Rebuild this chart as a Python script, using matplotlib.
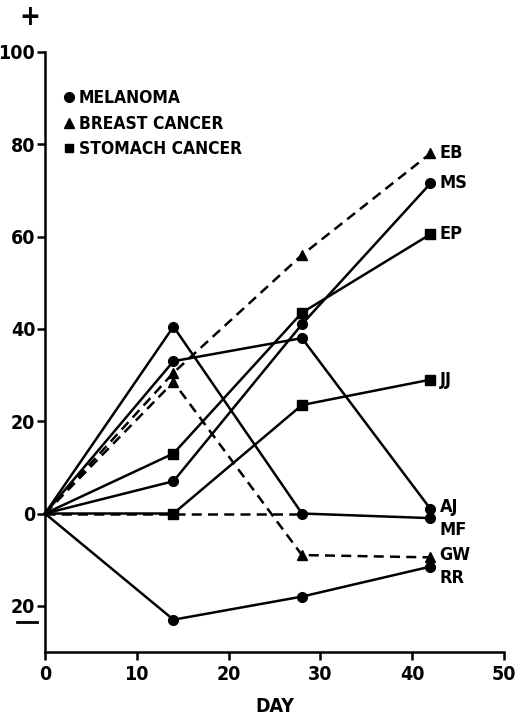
import matplotlib
matplotlib.use("Agg")
import matplotlib.pyplot as plt
from matplotlib.lines import Line2D

plt.rcParams['font.family'] = ['DejaVu Sans']
plt.rcParams['font.weight'] = 'bold'
plt.rcParams['font.stretch'] = 'condensed'

days = [0, 14, 28, 42]

# Melanoma (circles, solid)
MS = [0, 7, 41, 71.5]
AJ = [0, 33, 38, 1]
MF = [0, 40.5, 0, -1]
RR = [0, -23, -18, -11.5]
# Breast cancer (triangles, dashed)
EB = [0, 30.5, 56, 78]
GW = [0, 28.5, -9, -9.5]
extra_breast_days = [0, 14, 28]
extra_breast = [0, 0, 0]
# Stomach cancer (squares, solid)
EP = [0, 13, 43.5, 60.5]
JJ = [0, 0, 23.5, 29]

series = [
    ("MS", MS, 'o', '-'), ("AJ", AJ, 'o', '-'), ("MF", MF, 'o', '-'), ("RR", RR, 'o', '-'),
    ("EB", EB, '^', '--'), ("GW", GW, '^', '--'),
    ("EP", EP, 's', '-'), ("JJ", JJ, 's', '-'),
]
label_y = {"EB": 78, "MS": 71.5, "EP": 60.5, "JJ": 29, "AJ": 1.5, "MF": -3.5, "GW": -9, "RR": -14}

fig = plt.figure(figsize=(5.21, 7.21), dpi=100)
ax = fig.add_axes([0.0864, 0.0957, 0.8806, 0.8323])

dash = (0, (4, 2.5))
lw = 1.8
for name, vals, mk, ls in series:
    ax.plot(days[1:], vals[1:], linestyle='none', marker=mk, color='black',
            markersize=7 if mk != 's' else 6.5, clip_on=False, zorder=3)
    ax.plot(days, vals, color='black', lw=lw,
            linestyle=dash if ls == '--' else '-', clip_on=False, zorder=2)
    ax.text(43.0, label_y[name], name, fontsize=13, fontweight='bold',
            fontstretch='condensed', va='center', ha='left')

ax.plot(extra_breast_days, extra_breast, color='black', lw=lw, linestyle=dash, zorder=1)

ax.set_xlim(0, 50)
ax.set_ylim(-30, 100)
ax.spines['top'].set_visible(False)
ax.spines['right'].set_visible(False)
ax.spines['left'].set_linewidth(1.8)
ax.spines['bottom'].set_linewidth(1.8)

ax.set_xticks([0, 10, 20, 30, 40, 50])
ax.set_xticklabels(['0', '10', '20', '30', '40', '50'])
ax.set_yticks([-20, 0, 20, 40, 60, 80, 100])
ax.set_yticklabels(['20', '0', '20', '40', '60', '80', '100'])
ax.tick_params(axis='both', direction='out', length=6, width=1.8, labelsize=14)
ax.tick_params(axis='y', pad=1)
for t in ax.get_xticklabels() + ax.get_yticklabels():
    t.set_fontweight('bold')
    t.set_fontstretch('condensed')

ax.set_xlabel('DAY', fontsize=14, fontweight='bold', fontstretch='condensed', labelpad=9)

# minus underline under the lower "20"
ax.plot([-3.1, -0.9], [-23.5, -23.5], color='black', lw=2, clip_on=False,
        transform=ax.transData)

fig.text(0.058, 0.977, '+', fontsize=20, fontweight='bold', ha='center', va='center')

handles = [
    Line2D([], [], marker='o', linestyle='none', color='black', markersize=7, label='MELANOMA'),
    Line2D([], [], marker='^', linestyle='none', color='black', markersize=7, label='BREAST CANCER'),
    Line2D([], [], marker='s', linestyle='none', color='black', markersize=6, label='STOMACH CANCER'),
]
leg = ax.legend(handles=handles, loc='upper left', bbox_to_anchor=(0.025, 0.95),
                frameon=False, handlelength=0.6, handletextpad=0.3, labelspacing=0.45,
                prop={'family': ['DejaVu Sans'], 'weight': 'bold', 'stretch': 'condensed', 'size': 12.5},
                borderaxespad=0)

fig.savefig('out.png', dpi=100)
